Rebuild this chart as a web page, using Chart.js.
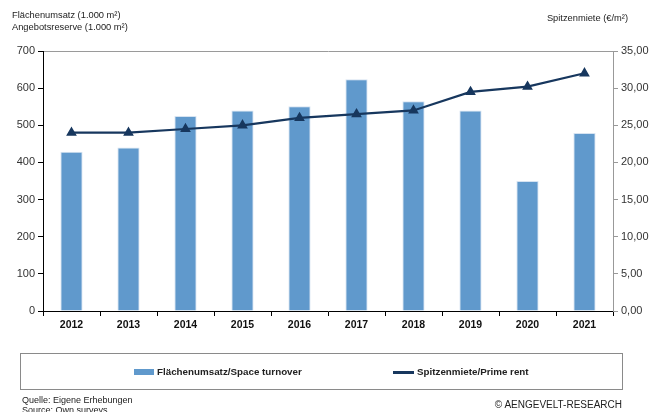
<!DOCTYPE html>
<html>
<head>
<meta charset="utf-8">
<script src="https://cdn.jsdelivr.net/npm/chart.js@4"></script>
<style>
  body { margin: 0; background: #fff; font-family: "Liberation Sans", Arial, sans-serif; }
  #wrap { position: relative; width: 655px; height: 412px; overflow: hidden; }
  canvas { position: absolute; left: 0; top: 0; }
  .t { position: absolute; font-size: 9.3px; color: #222; white-space: nowrap; line-height: 12px; }
  #legend { position: absolute; left: 20px; top: 353px; width: 603px; height: 37px; border: 1px solid #8a8a8a; box-sizing: border-box; }
  .lg { position: absolute; top: 12px; font-size: 9.8px; font-weight: bold; color: #222; white-space: nowrap; }
  .sw { display: inline-block; vertical-align: middle; margin-right: 3px; }
</style>
</head>
<body>
<div id="wrap">
  <canvas id="myChart" width="655" height="412"></canvas>
  <div class="t" style="left:12px;top:9px">Flächenumsatz (1.000 m²)<br>Angebotsreserve (1.000 m²)</div>
  <div class="t" style="right:27px;top:12px">Spitzenmiete (€/m²)</div>
  <div id="legend">
    <div class="lg" style="left:113px"><span class="sw" style="width:20px;height:6px;background:#6099cc"></span>Flächenumsatz/Space turnover</div>
    <div class="lg" style="left:372px"><span class="sw" style="width:21px;height:3px;background:#17375e"></span>Spitzenmiete/Prime rent</div>
  </div>
  <div class="t" style="left:22px;top:395px;font-size:9px;line-height:10px">Quelle: Eigene Erhebungen<br>Source: Own surveys</div>
  <div class="t" style="right:33px;top:399px;font-size:10px">© AENGEVELT-RESEARCH</div>
</div>
<script>
// data
const years = ["2012", "2013", "2014", "2015", "2016", "2017", "2018", "2019", "2020", "2021"];
const turnover = [429, 440, 525, 540, 551, 624, 565, 540, 350, 479];
const primeRent = [24.0, 24.0, 24.5, 25.0, 26.0, 26.5, 27.0, 29.5, 30.2, 32.0];

const ctx = document.getElementById("myChart");
new Chart(ctx, {
  data: {
    labels: years,
    datasets: [
      {
        type: "line",
        label: "Spitzenmiete/Prime rent",
        data: primeRent,
        yAxisID: "y1",
        order: 0,
        borderColor: "#17375e",
        backgroundColor: "#17375e",
        borderWidth: 2.2,
        pointStyle: "triangle",
        pointRadius: 4,
        tension: 0,
      },
      {
        type: "bar",
        label: "Flächenumsatz/Space turnover",
        data: turnover,
        yAxisID: "y",
        order: 1,
        backgroundColor: "#6099cc",
        borderColor: "#d6e3f1",
        borderWidth: { top: 1, left: 1, right: 1, bottom: 0 },
        barPercentage: 0.39,
        categoryPercentage: 1,
      },
    ],
  },
  options: {
    responsive: false,
    animation: false,
    layout: { padding: { top: 51, left: 0, right: 0, bottom: 0 } },
    plugins: { legend: { display: false }, tooltip: { enabled: false } },
    scales: {
      x: {
        afterFit: (s) => { s.height = 101; },
        grid: { drawOnChartArea: false, tickLength: 5, tickColor: "#000", offset: true },
        border: { color: "#000", width: 1 },
        ticks: { color: "#111", font: { family: "Liberation Sans", size: 10.5, weight: "bold" }, padding: 3 },
      },
      y: {
        position: "left",
        min: 0,
        max: 700,
        afterFit: (s) => { s.width = 43; },
        ticks: { stepSize: 100, color: "#333", font: { family: "Liberation Sans", size: 11 }, padding: 3 },
        grid: {
          color: (c) => (c.tick && c.tick.value === 700 ? "#9a9a9a" : "rgba(0,0,0,0)"),
          tickColor: "#000",
          tickLength: 5,
        },
        border: { color: "#000", width: 1 },
      },
      y1: {
        position: "right",
        min: 0,
        max: 35,
        afterFit: (s) => { s.width = 42; },
        ticks: {
          stepSize: 5,
          color: "#333",
          font: { family: "Liberation Sans", size: 11 },
          padding: 3,
          callback: (v) => v.toFixed(2).replace(".", ","),
        },
        grid: { drawOnChartArea: false, tickColor: "#999", tickLength: 5 },
        border: { color: "#999", width: 1 },
      },
    },
  },
});
</script>
</body>
</html>
